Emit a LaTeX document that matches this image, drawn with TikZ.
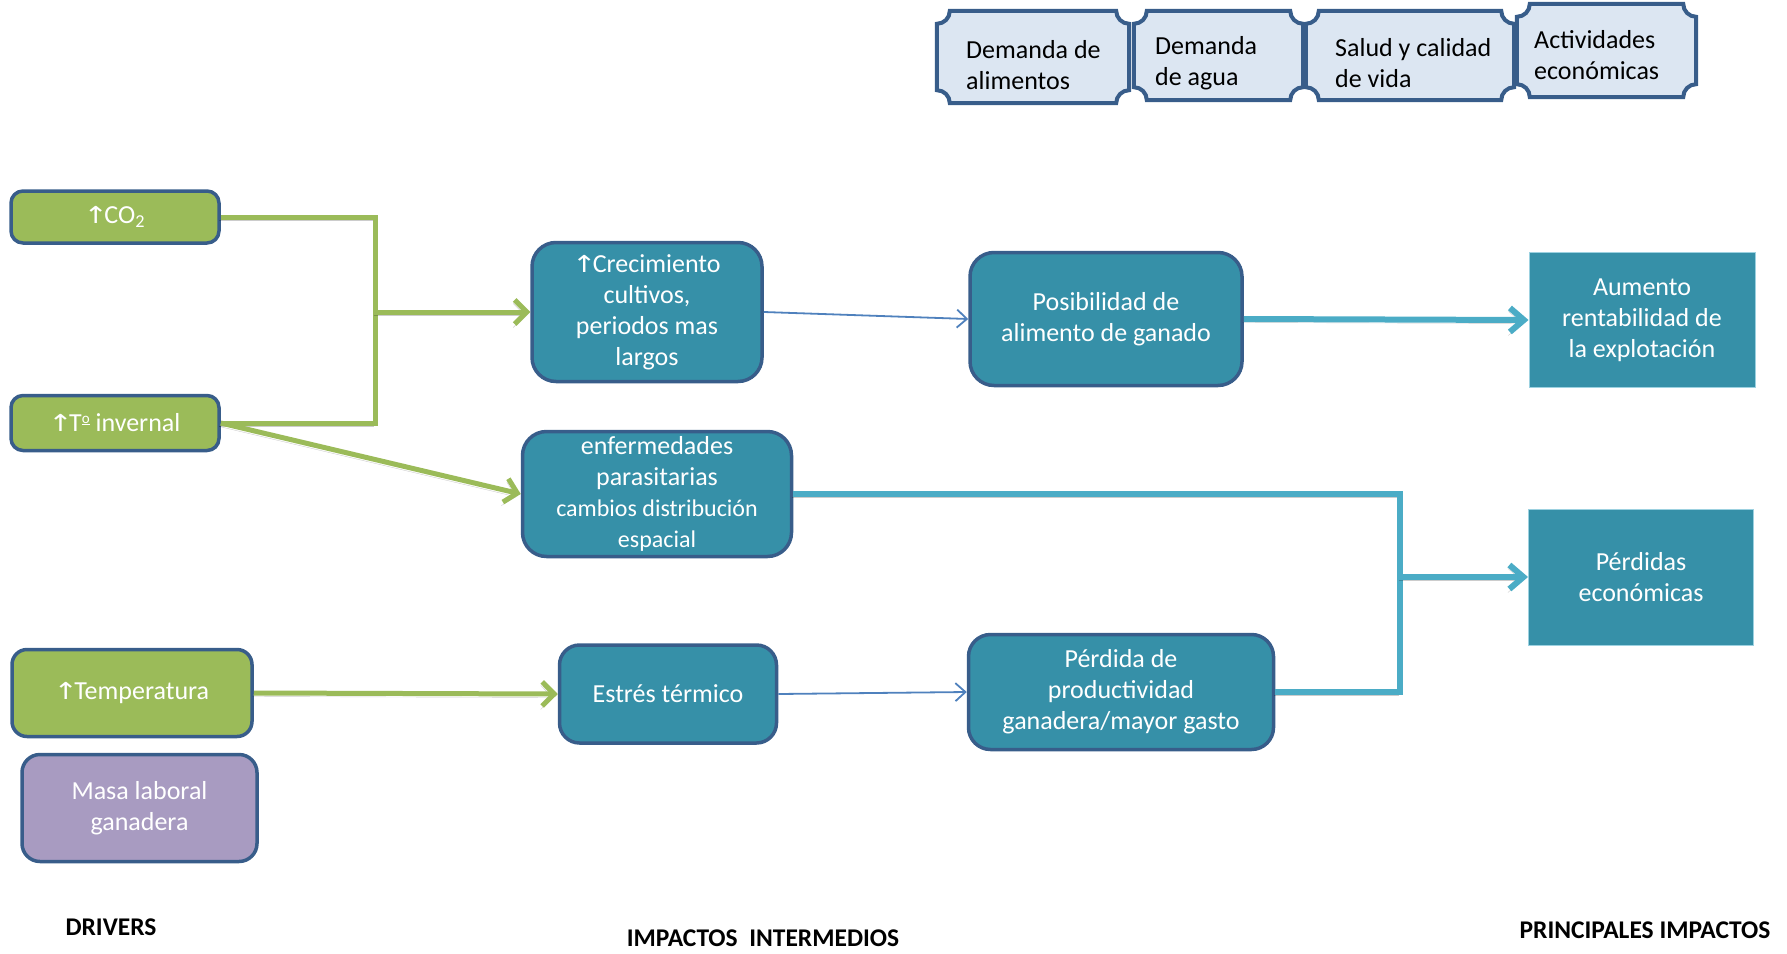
\documentclass[tikz,border=0pt]{standalone}
\usepackage{fontspec}
\usepackage{graphicx}
\setmainfont{Carlito}
\newfontfamily\arrowfont{DejaVu Sans}
\usetikzlibrary{arrows.meta,calc}

\definecolor{drvgreen}{HTML}{9BBB59}
\definecolor{edgeblue}{HTML}{385D8A}
\definecolor{tealfill}{RGB}{54,144,168}
\definecolor{lilac}{RGB}{168,155,193}
\definecolor{tabfill}{HTML}{DCE6F2}
\definecolor{flowblue}{HTML}{4F81BD}
\definecolor{aqua}{HTML}{4BACC6}

% thin upward arrow standing on the baseline, as tall as the capitals
\newcommand\uparr{{\arrowfont\kern-0.05em\scalebox{1.12}[0.9]{↑}\kern-0.14em}}
% raised, underlined ordinal o
\newcommand\ordo{\raisebox{0.34em}{\fontsize{15}{15}\selectfont\underline{o}}}
\newcommand\bodyfont{\fontsize{26}{31}\selectfont}
\newcommand\smallbody{\fontsize{24}{30}\selectfont}

% rectangle with concave (plaque) corners around a node
\newcommand\plaquepath[1]{%
  ($(#1.north west)+(13pt,0pt)$) -- ($(#1.north east)+(-13pt,0pt)$)
  .. controls ($(#1.north east)+(-13pt,-7.2pt)$) and ($(#1.north east)+(-7.2pt,-13pt)$) .. ($(#1.north east)+(0pt,-13pt)$)
  -- ($(#1.south east)+(0pt,13pt)$)
  .. controls ($(#1.south east)+(-7.2pt,13pt)$) and ($(#1.south east)+(-13pt,7.2pt)$) .. ($(#1.south east)+(-13pt,0pt)$)
  -- ($(#1.south west)+(13pt,0pt)$)
  .. controls ($(#1.south west)+(13pt,7.2pt)$) and ($(#1.south west)+(7.2pt,13pt)$) .. ($(#1.south west)+(0pt,13pt)$)
  -- ($(#1.north west)+(0pt,-13pt)$)
  .. controls ($(#1.north west)+(7.2pt,-13pt)$) and ($(#1.north west)+(13pt,-7.2pt)$) .. cycle}

\tikzset{
  driver/.style={draw=edgeblue, line width=3.5pt, fill=drvgreen, rounded corners=12pt,
    text=white, font=\bodyfont, align=center, inner sep=0pt},
  impact/.style={draw=edgeblue, line width=3.5pt, fill=tealfill, rounded corners=24pt,
    text=white, font=\bodyfont, align=center, inner sep=0pt},
  result/.style={draw=aqua!55, line width=1pt, fill=tealfill,
    text=white, font=\bodyfont, align=center, inner sep=0pt},
  tabbox/.style={draw=none, inner sep=0pt},
  tabline/.style={draw=edgeblue, line width=4pt, fill=tabfill},
  tabtext/.style={anchor=west, align=left, inner sep=0pt, font=\bodyfont, text=black},
  colhead/.style={font=\fontsize{25.5}{28}\selectfont\bfseries, inner sep=0pt},
  shadowed/.style={preaction={draw=black, draw opacity=0.2,
    transform canvas={shift={(-1.5pt,-3.5pt)}}}},
  greenlink/.style={draw=drvgreen, line width=5pt, shadowed},
  greenarrow/.style={greenlink, -{Straight Barb[length=12pt,width=24pt]}},
  thinarrow/.style={draw=flowblue, line width=1.8pt, -{Straight Barb[length=10pt,width=18pt]}},
  aqualink/.style={draw=aqua, line width=6pt, shadowed},
  aquaarrow/.style={aqualink, -{Straight Barb[length=14pt,width=24pt]}},
}

\begin{document}
\begin{tikzpicture}[x=1pt,y=-1pt]
\useasboundingbox (0,0) rectangle (1787,953);

% top tabs
\node[tabbox, minimum width=192, minimum height=92] (t1) at (1033,57) {};
\node[tabbox, minimum width=169, minimum height=89] (t2) at (1218.5,55.5) {};
\node[tabbox, minimum width=208, minimum height=89] (t3) at (1410,55.5) {};
\node[tabbox, minimum width=179, minimum height=93] (t4) at (1606.5,50.5) {};
\draw[tabline] \plaquepath{t1};
\draw[tabline] \plaquepath{t2};
\draw[tabline] \plaquepath{t3};
\draw[tabline] \plaquepath{t4};
\node[tabtext] (t1txt) at (966,65.5) {Demanda de\\alimentos};
\node[tabtext] (t2txt) at (1155,63.5) {Demanda\\de agua};
\node[tabtext] (t3txt) at (1335,63.5) {Salud y calidad\\de vida};
\node[tabtext] (t4txt) at (1534,55.5) {Actividades\\económicas};

% drivers
\node[driver, minimum width=208, minimum height=52] (co2) at (115,217) {\uparr CO\textsubscript{2}};
\node[driver, minimum width=208, minimum height=55] (tinv) at (115,423) {\uparr T\ordo\ invernal};
\node[driver, rounded corners=15pt, minimum width=240, minimum height=87] (temp) at (132,693) {\uparr Temperatura};
\node[driver, fill=lilac, rounded corners=18pt, minimum width=235, minimum height=107] (masa) at (139.5,808) {Masa laboral\\ganadera};

% intermediate impacts
\node[impact, minimum width=230, minimum height=139] (crec) at (647,312) {\uparr Crecimiento\\cultivos,\\periodos mas\\largos};
\node[impact, minimum width=269, minimum height=125] (enf) at (657,494) {enfermedades\\parasitarias\\{\smallbody cambios distribución}\\{\smallbody espacial}};
\node[impact, rounded corners=20pt, minimum width=217, minimum height=98] (estres) at (668,694) {Estrés térmico};
\node[impact, minimum width=272, minimum height=133] (posib) at (1106,319) {Posibilidad de\\alimento de ganado};
\node[impact, rounded corners=22pt, minimum width=305, minimum height=115] (perdida) at (1121,692) {Pérdida de\\productividad\\ganadera/mayor gasto};

% main impacts
\node[result, minimum width=226, minimum height=135] (aumento) at (1642,320) {Aumento\\rentabilidad de\\la explotación};
\node[result, minimum width=225, minimum height=136] (perdidas) at (1641,577) {Pérdidas\\económicas};

% junctions
\coordinate (j1) at (375,312);
\coordinate (k1) at (1400,577);

% connectors
\draw[greenlink] (co2.east) -| (j1) |- (tinv.east);
\draw[greenarrow] (j1) -- (crec.west);
\draw[greenarrow] (tinv.east) -- (enf.west);
\draw[greenarrow] (temp.east) -- (estres.west);
\draw[thinarrow] (crec.east) -- (posib.west);
\draw[thinarrow] (estres.east) -- (perdida.west);
\draw[aquaarrow] (posib.east) -- (aumento.west);
\draw[aqualink] (enf.east) -| (k1) |- (perdida.east);
\draw[aquaarrow] (k1) -- (perdidas.west);

% column headings
\node[colhead] (drv) at (111,927) {DRIVERS};
\node[colhead] (imp) at (763,938) {IMPACTOS\ \ INTERMEDIOS};
\node[colhead] (prin) at (1645,930) {PRINCIPALES IMPACTOS};
\end{tikzpicture}
\end{document}
